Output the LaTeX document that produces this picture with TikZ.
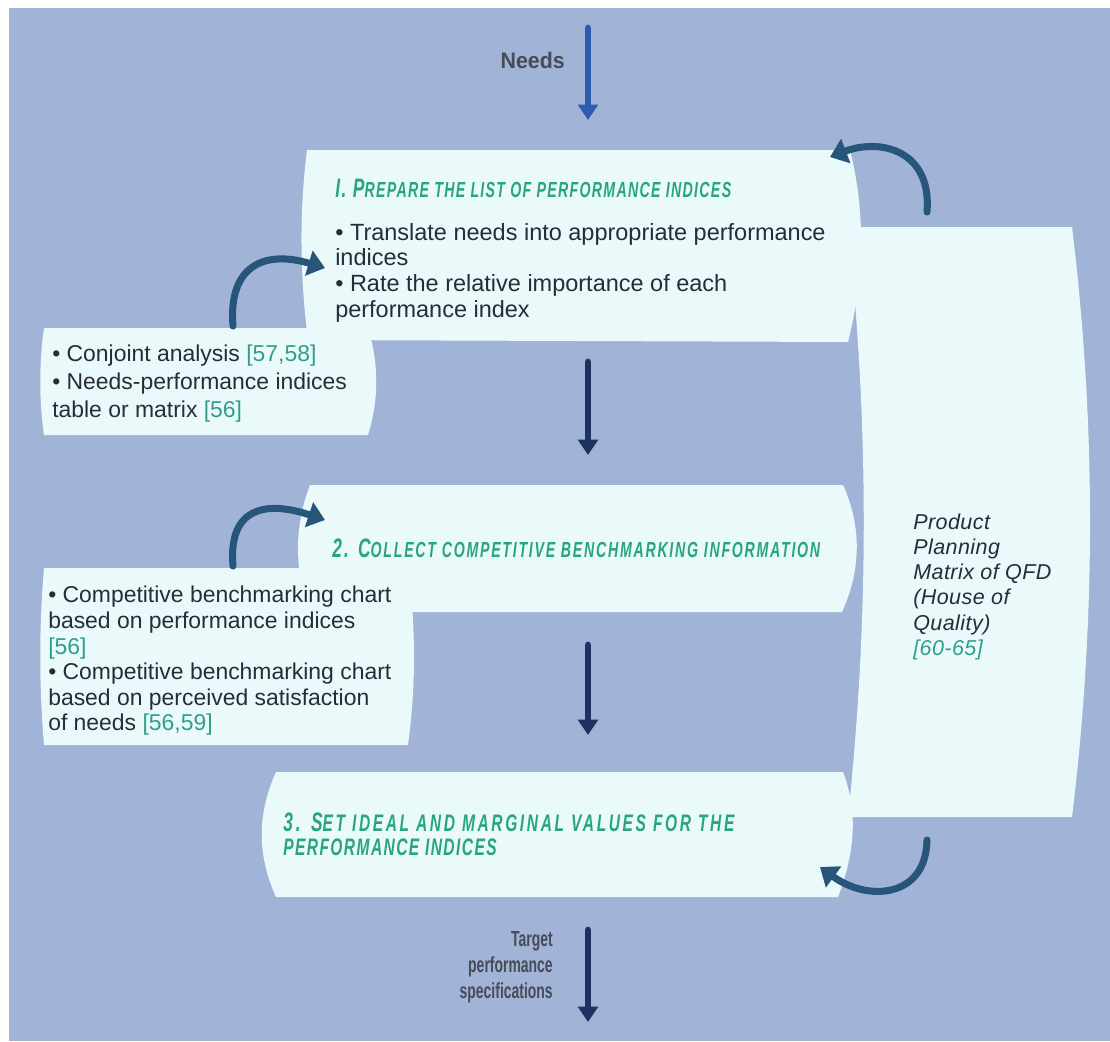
\documentclass[tikz,border=0pt]{standalone}
\usepackage{fontspec}
\setmainfont{Liberation Sans}
\newfontfamily\headfont[FakeStretch=0.65,LetterSpace=6]{Liberation Sans}
\newfontfamily\labelfont[FakeStretch=0.64]{Liberation Sans}
\newfontfamily\needsfont[FakeStretch=0.95]{Liberation Sans}
\newfontfamily\qfdfont[LetterSpace=2]{Liberation Sans}
\usetikzlibrary{arrows.meta}
\definecolor{bgblue}{RGB}{161,179,215}
\definecolor{panelcyan}{RGB}{234,250,251}
\definecolor{headgreen}{RGB}{40,164,128}
\definecolor{refgreen}{RGB}{48,158,136}
\definecolor{ink}{RGB}{40,44,56}
\definecolor{navy}{RGB}{30,50,98}
\definecolor{loopblue}{RGB}{40,86,122}
\definecolor{needsblue}{RGB}{45,92,172}
\newcommand{\refno}[1]{\textcolor{refgreen}{[#1]}}
\newcommand{\hcap}[1]{{\fontsize{19}{18}\selectfont #1}}
\begin{document}
\begin{tikzpicture}[x=0.025cm, y=-0.025cm, line join=round, line cap=round,
  panel/.style={fill=panelcyan},
  flow/.style={draw=navy, line width=4.8pt, -{Triangle[length=11pt,width=14pt]}},
  loop/.style={draw=loopblue, line width=5pt, -{Triangle[length=12pt,width=18pt]}},
  body/.style={inner sep=0pt, anchor=north west, align=left, text=ink, font=\fontsize{16.7}{18.2}\selectfont},
  head/.style={inner sep=0pt, align=left, text=headgreen, font=\headfont\bfseries\itshape\fontsize{15.5}{15.6}\selectfont},
  tag/.style={inner sep=0pt, text=ink!85, font=\labelfont\bfseries\fontsize{15.5}{18.5}\selectfont}]
	% Nền
	\useasboundingbox (0,0) rectangle (1110,1041);
	\fill[white] (0,0) rectangle (1110,1041);
	\fill[bgblue] (9,8) rectangle (1110,1041);

	% Các khung (cạnh bên hơi cong)
	\fill[panel] (307,150) -- (850,150) .. controls +(16,64) and +(16,-64) .. (848,342)
		-- (308,340) .. controls +(-8,-63) and +(-8,63) .. cycle;
	\fill[panel] (310,485) -- (843,485) .. controls +(19,42) and +(19,-42) .. (842,612)
		-- (310,612) .. controls +(-16,-42) and +(-16,42) .. cycle;
	\fill[panel] (276,772) -- (843,772) .. controls +(16,42) and +(16,-42) .. (838,897)
		-- (276,897) .. controls +(-19,-42) and +(-19,42) .. cycle;
	\fill[panel] (44,328) -- (368,328) .. controls +(11,36) and +(11,-36) .. (368,435)
		-- (44,435) .. controls +(-5,-36) and +(-5,36) .. cycle;
	\fill[panel] (44,568) -- (408,568) .. controls +(8,59) and +(8,-59) .. (408,745)
		-- (44,745) .. controls +(-5,-59) and +(-5,59) .. cycle;
	\fill[panel] (848,227) -- (1072,227) .. controls +(24,197) and +(24,-197) .. (1072,817)
		-- (848,817) .. controls +(21,-197) and +(21,197) .. cycle;

	% Tiêu đề các bước
	\node[head, anchor=base west] (prepHead) at (335,197) {\hcap{I. P}REPARE THE LIST OF PERFORMANCE INDICES};
	\node[head, anchor=base west] (collectHead) at (332,557) {\addfontfeature{LetterSpace=8}\hcap{2. C}OLLECT COMPETITIVE BENCHMARKING INFORMATION};
	\node[head, anchor=north west, font=\headfont\bfseries\itshape\fontsize{17}{17}\selectfont] (setHead) at (283,813) {\addfontfeature{LetterSpace=11}\hcap{3. S}ET IDEAL AND MARGINAL VALUES FOR THE\\PERFORMANCE INDICES};

	% Nội dung các khung
	\node[body] (prepText) at (335,223) {• Translate needs into appropriate performance\\indices\\• Rate the relative importance of each\\performance index};
	\node[body, font=\fontsize{16.3}{19.6}\selectfont] (conjText) at (52,345) {• Conjoint analysis \refno{57,58}\\• Needs-performance indices\\table or matrix \refno{56}};
	\node[body, font=\fontsize{16.3}{18.2}\selectfont] (benchText) at (48,586) {• Competitive benchmarking chart\\based on performance indices\\\refno{56}\\• Competitive benchmarking chart\\based on perceived satisfaction\\of needs \refno{56,59}};
	\node[body, font=\qfdfont\itshape\fontsize{15.3}{17.8}\selectfont] (qfdText) at (913,514) {Product\\Planning\\Matrix of QFD\\(House of\\Quality)\\\refno{60-65}};

	% Đầu vào và đầu ra
	\node[tag, anchor=base east, font=\needsfont\bfseries\fontsize{16}{18}\selectfont] (needs) at (565,68) {Needs};
	\node[tag, anchor=north east, align=right] (target) at (553,931) {Target\\performance\\specifications};

	% Mũi tên thẳng
	\coordinate (needsTop) at (588,28);   \coordinate (needsEnd) at (588,120);
	\coordinate (oneOut) at (588,362);    \coordinate (twoIn) at (588,455);
	\coordinate (twoOut) at (588,645);    \coordinate (threeIn) at (588,735);
	\coordinate (threeOut) at (588,930);  \coordinate (targetEnd) at (588,1022);
	\draw[flow, draw=needsblue] (needsTop) -- (needsEnd);
	\draw[flow] (oneOut) -- (twoIn);
	\draw[flow] (twoOut) -- (threeIn);
	\draw[flow] (threeOut) -- (targetEnd);

	% Mũi tên cong (công cụ hỗ trợ và vòng lặp QFD)
	\coordinate (conjTop) at (233,326);   \coordinate (prepLeft) at (325,268);
	\coordinate (benchTop) at (233,566);  \coordinate (collectLeft) at (325,520);
	\coordinate (qfdTop) at (927,212);    \coordinate (prepRight) at (830,157);
	\coordinate (qfdBottom) at (927,840); \coordinate (setRight) at (820,867);
	\draw[loop] (conjTop) .. controls (228,265) and (265,250) .. (prepLeft);
	\draw[loop] (benchTop) .. controls (228,508) and (265,500) .. (collectLeft);
	\draw[loop] (qfdTop) .. controls (932,150) and (880,138) .. (prepRight);
	\draw[loop] (qfdBottom) .. controls (926,898) and (868,902) .. (setRight);
\end{tikzpicture}
\end{document}
